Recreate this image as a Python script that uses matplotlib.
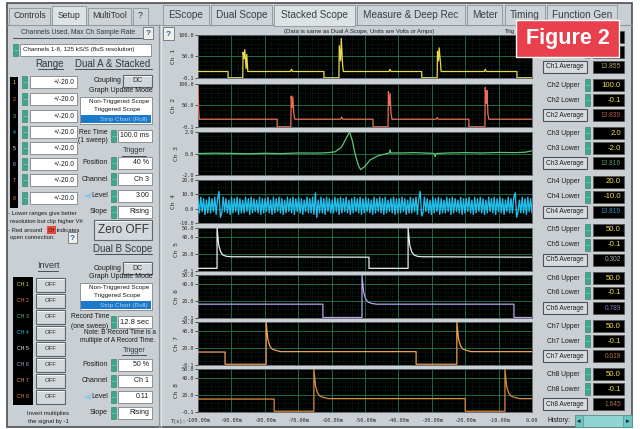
import matplotlib
matplotlib.use("Agg")
import matplotlib.pyplot as plt
from matplotlib.patches import Rectangle, Polygon
from matplotlib.lines import Line2D
from matplotlib.ticker import MultipleLocator

W = 640
H = 429

# stacked scope traces, time in ms (last 100 ms of the roll)
ch1_t = [-100, -91.0, -91.0, -86.6, -86.5, -86.2, -86.0, -85.6, -85.4, -85.1, -72.3, -72.0, -71.7,
         -62.3, -62.3, -57.8, -57.7, -57.3, -57.1, -56.7, -56.5, -42.8, -42.5, -42.2,
         -33.0, -33.0, -28.4, -28.3, -28.0, -27.8, -27.4, -27.2, -14.3, -14.0, -13.7, -4.5, -4.5, 0]
ch1_v = [15, 15, 0.5, 0.5, 60, 45, 66, 22, 55, 15, 15, 20, 15,
         15, 0.5, 0.5, 75, 40, 92, 30, 15, 15, 20, 15,
         15, 0.5, 0.5, 62, 40, 70, 35, 15, 15, 20, 15, 15, 0.5, 0.5]

ch2_t = [-100, -99.8, -99.6, -76.3, -76.3, -72.2, -72.1, -71.8, -71.6, -71.3, -71.0, -57.3, -57.0, -56.7,
         -47.6, -47.6, -43.1, -43.0, -42.7, -42.5, -42.2, -41.9, -28.7, -28.4, -28.1,
         -18.9, -18.9, -14.1, -14.0, -13.7, -13.5, -13.2, -12.9, 0]
ch2_v = [95, 40, 18, 18, 0.5, 0.5, 72, 45, 70, 30, 18, 18, 23, 18,
         18, 0.5, 0.5, 82, 50, 78, 30, 18, 18, 22, 18,
         18, 0.5, 0.5, 92, 55, 85, 30, 18, 18]

ch3_t = [-100, -95, -90, -85, -80, -75, -70, -65, -62, -59, -57, -55.5, -54.6, -53.8, -53, -52, -51.3,
         -50, -48.5, -46, -44, -42.7, -42.5, -42.3, -40, -35, -30, -29.3, -29.0, -28.7, -25, -20, -15,
         -10, -5, -2, 0]
ch3_v = [0.0, 0.03, 0.01, -0.02, 0.02, -0.01, 0.05, 0.04, 0.06, 0.15, 0.6, 1.5, 2.0, 1.2, 0.0, -1.1, -1.5,
         -1.2, -0.6, -0.2, -0.05, 0.05, 0.35, 0.05, 0.05, 0.08, 0.02, 0.0, -0.3, 0.0, 0.05, 0.08, 0.05,
         0.1, 0.08, 0.12, 0.25]

ch4_v = [7, -3, 8, -2, 7, -4, 6, -3, 8, -3, 7, -2, 8, -4, 7, 12, -6, -3, 8, -2, 7, -3, 6, -4,
         8, -3, 7, -2, 8, -4, 7, -3, 6, -3, 8, -2, 7, -4, 8, -3, 7, -2, 6, -3, 8, -4, 7, -3,
         7, -2, 8, -3, 6, -4, 8, -3, 7, -2, 8, -3, 7, -4, 6, -3, 8, -2, 7, -3, 8, -4, 7, -2,
         8, -3, 7, -4, 6, -2, 8, -3, 7, -3, 8, -4, 11, -6, 6, -3, 8, -3, 7, -4, 8, -2, 7, -3,
         6, -3, 8, -2, 7, -4, 8, -3, 7, -2, 8, -3, 6, -4, 7, -3, 8, -2, 7, -3, 8, -4, 7, -3,
         8, -2, 7, -3, 6, -4, 8, -3, 7, -2, 8, -3, 7, -4, 8, -3, 6, -2, 7, -3, 8, -4, 7, -3,
         7, -3, 8, -2, 7, -4, 6, -3, 8, -3, 7, -2, 8, -4, 7, 12, -5, -3, 8, -2, 7, -3, 6, -4,
         8, -3, 7, -2, 8, -4, 7, -3, 6, -3, 8, -2, 7, -4, 8, -3, 7, -2, 6, -3, 8, -4, 7, -3,
         7, -2, 8, -3, 6, -4, 8, -3, 7, -2, 8, -3, 7, -4, 6, -3, 8, -2, 7, -3, 8, -4, 7, -2,
         8, -3, 7, -4, 6, -2, 8, -3, 7, -3, 8, 11, -6, -2, 6, -3, 8, -3, 7, -4, 8, -2, 7, -3]
ch4_t = [-100 + i * 100 / (len(ch4_v) - 1) for i in range(len(ch4_v))]

ch5_t = [-100, -94.3, -94.3, -93.8, -93.2, -92.5, -91.5, -90, -48.8, -48.8,
         -37.1, -37.1, -36.6, -36.0, -35.3, -34.3, -33, 0]
ch5_v = [3, 3, 50, 30, 22, 18.5, 17, 16.5, 16, 3,
         3, 50, 30, 22, 18.5, 17, 16.5, 16]

ch6_t = [-100, -62.6, -62.6, -50.9, -50.9, -50.4, -49.8, -49.1, -48.1, -46.6, -5.4, -5.4, 0]
ch6_v = [16, 16, 0.5, 0.5, 50, 30, 22, 18.5, 17, 16, 16, 0.5, 0.5]

ch7_t = [-100, -91.9, -91.9, -79.6, -79.6, -79.1, -78.5, -77.8, -76.8, -75.3, -34.7, -34.7,
         -22.5, -22.5, -22.0, -21.4, -20.7, -19.7, -18.2, 0]
ch7_v = [15, 15, 0.8, 0.8, 50, 30, 22, 18.5, 17, 15.5, 15.5, 0.8,
         0.8, 50, 30, 22, 18.5, 17, 15.5, 15.5]

ch8_t = [-100, -77.2, -77.2, -65.3, -65.3, -64.8, -64.2, -63.5, -62.5, -61.0, -20.0, -20.0,
         -8.1, -8.1, -7.6, -7.0, -6.3, -5.3, -3.8, 0]
ch8_v = [15, 15, 0.8, 0.8, 50, 30, 22, 18.5, 17, 15.5, 15.5, 0.8,
         0.8, 50, 30, 22, 18.5, 17, 15.5, 15.5]

traces_t = [ch1_t, ch2_t, ch3_t, ch4_t, ch5_t, ch6_t, ch7_t, ch8_t]
traces_v = [ch1_v, ch2_v, ch3_v, ch4_v, ch5_v, ch6_v, ch7_v, ch8_v]

upper = [100.0, 100.0, 2.0, 20.0, 50.0, 50.0, 50.0, 50.0]
lower = [-0.1, -0.1, -2.0, -10.0, -0.1, -0.1, -0.1, -0.1]
averages = ["13.855", "13.839", "13.816", "13.819", "0.302", "0.789", "0.019", "1.645"]
y_ticks = [[100.0, 50.0, -0.1], [100.0, 50.0, -0.1], [2.0, 0.0, -2.0], [20.0, 10.0, 0.0, -10.0],
           [50.0, 40.0, 20.0, -0.1], [50.0, 40.0, 20.0, -0.1], [50.0, 40.0, 20.0, -0.1],
           [50.0, 40.0, 20.0, -0.1]]
minor_step = [10, 10, 0.4, 5, 5, 5, 5, 5]
time_ticks = [-100, -90, -80, -70, -60, -50, -40, -30, -20, -10, 0]
time_labels = ["-100.00m", "-90.00m", "-80.00m", "-70.00m", "-60.00m", "-50.00m",
               "-40.00m", "-30.00m", "-20.00m", "-10.00m", "0.00"]

range_values = ["+/-20.0"] * 8
main_tabs = ["EScope", "Dual Scope", "Stacked Scope", "Measure & Deep Rec", "Meter", "Timing", "Function Gen"]
side_tabs = ["Controls", "Setup", "MultiTool", "?"]

colors = ["#e8da4c", "#ec6e58", "#5cc474", "#22bde9", "#ececec", "#b9a2ea", "#f2a052", "#dc8a3c"]
avg_colors = ["#a9a060", "#b85a50", "#5a9a68", "#3a8ab0", "#a8a8a8", "#8c78b8", "#b87848", "#a87a50"]

BG = "#c9cfd3"
EDGE = "#6c7379"

plt.rcParams["font.family"] = ["Liberation Sans", "DejaVu Sans"]
fig = plt.figure(figsize=(6.4, 4.29), dpi=100)
fig.patch.set_facecolor("white")


def rect(x0, y0, x1, y1, fc, ec="none", lw=0.6, z=1):
    fig.add_artist(Rectangle((x0 / W, 1 - y1 / H), (x1 - x0) / W, (y1 - y0) / H,
                             transform=fig.transFigure, facecolor=fc, edgecolor=ec, linewidth=lw, zorder=z))


def text(x, y, s, size=5, color="#1a1a1a", ha="left", z=3, **kw):
    fig.text(x / W, 1 - y / H, s, fontsize=size, color=color, ha=ha, va="center", zorder=z, **kw)


def line(x0, y0, x1, y1, color=EDGE, lw=0.6, z=2):
    fig.add_artist(Line2D([x0 / W, x1 / W], [1 - y0 / H, 1 - y1 / H], transform=fig.transFigure,
                          color=color, linewidth=lw, zorder=z))


def underlined(x, y, s, x0, x1, size=7):
    text(x, y, s, size=size, color="#333a40", ha="center")
    line(x0, y + 5, x1, y + 5, color="#333a40", lw=0.6)


def spinner(x, y):
    rect(x, y - 6, x + 5, y + 6, "#3da68c", ec="#2c7a66", lw=0.4, z=2)
    line(x + 0.5, y, x + 4.5, y, color="#8fd8c4", lw=0.4, z=3)


def field(x0, x1, y, s, fc="white", color="#1a1a1a", size=5, ec="#7d848a"):
    rect(x0, y - 6, x1, y + 6, fc, ec=ec, lw=0.6, z=2)
    if s:
        text(x1 - 3, y, s, size=size, color=color, ha="right")


def button(x0, y0, x1, y1, s, size=5):
    rect(x0, y0, x1, y1, "#d3d8dc", ec="#5d646a", lw=0.8, z=2)
    line(x0 + 1, y0 + 1, x1 - 1, y0 + 1, color="white", lw=0.6, z=3)
    text((x0 + x1) / 2, (y0 + y1) / 2, s, size=size, color="#333", ha="center")


def help_box(x0, y0, x1, y1):
    rect(x0, y0, x1, y1, "#eef0ea", ec="#6a7076", lw=0.6, z=2)
    text((x0 + x1) / 2, (y0 + y1) / 2 + 0.5, "?", size=6, color="#2a5cb8", ha="center", weight="bold")


def listbox(x0, y0, x1, y1):
    rect(x0, y0, x1, y1, "white", ec="#7d848a", lw=0.6, z=2)
    text(x1 - 3, y0 + 4, "Non-Triggered Scope", size=4.6, ha="right")
    text(x1 - 12, y0 + 13, "Triggered Scope", size=4.6, ha="right")
    rect(x0 + 1, y0 + 18, x1 - 1, y1 - 1, "#1c78c8", z=3)
    text(x1 - 5, y0 + 22.5, "Strip Chart (Roll)", size=4.6, color="#a8d0f0", ha="right", z=4)


# window frame
rect(7, 3, 632, 427, BG, ec="#4a4f55", lw=1.2, z=0)
line(7, 25, 632, 25, color="#8d949a", lw=0.8)
line(159, 25, 159, 427, color="#8d949a", lw=0.9)
line(160.5, 25, 160.5, 427, color="#eef1f3", lw=0.5)

# left side tabs
side_x = [(9, 50), (52, 86), (88, 131), (133, 148)]
for (x0, x1), name in zip(side_x, side_tabs):
    sel = name == "Setup"
    rect(x0, 6 if sel else 8, x1, 25, "#dde2e5" if sel else "#cdd3d7", ec="#8d949a", lw=0.6, z=2)
    text((x0 + x1) / 2, 16, name, size=6.3, color="#333", ha="center")

# main tabs
main_x = [(163, 209), (211, 272), (274, 355), (357, 465), (467, 502), (505, 545), (547, 617)]
for (x0, x1), name in zip(main_x, main_tabs):
    sel = name == "Stacked Scope"
    rect(x0, 5, x1, 25.5 if sel else 25, "#dde2e5" if sel else "#cdd3d7", ec="#8d949a", lw=0.6, z=2)
    text((x0 + x1) / 2, 15, name, size=7.2, color="#3a3f44", ha="center")

text(284, 32, "(Data is same as Dual A Scope, Units are Volts or Amps)", size=4.3, color="#222")
text(505, 32, "Trig", size=4.3, color="#222")
help_box(163, 27, 174, 40)

# setup panel, upper half
underlined(78, 33, "Channels Used, Max Ch Sample Rate", 13, 142, size=4.9)
help_box(143, 27, 153, 39)
spinner(13, 50)
rect(20, 44, 151, 56, "white", ec="#7d848a", lw=0.6, z=2)
text(23, 50, "Channels 1-8, 125 kS/S (8uS resolution)", size=4.5)
underlined(50, 64, "Range", 38, 63, size=7)
underlined(113, 64, "Dual A & Stacked", 75, 152, size=7)

rect(10, 77, 18, 208, "black", z=2)
range_rows = [82, 99, 116, 132, 148, 164, 180, 198]
for i, y in enumerate(range_rows):
    text(14, y, str(i + 1), size=3.8, color=colors[i], ha="center")
    spinner(22, y)
    field(30, 77, y, range_values[i], size=4.8)

text(122, 81, "Coupling", size=5, ha="right")
button(123, 75, 152, 87, "DC")
text(121, 91, "Graph Update Mode", size=5, ha="center")
listbox(80, 97, 152, 124)
text(93, 132, "Rec Time", size=4.9, ha="center")
text(93, 141, "(1 sweep)", size=4.9, ha="center")
spinner(111, 136)
field(118, 152, 136, "100.0 ms", size=5)
underlined(134, 151, "Trigger", 122, 146, size=5.3)
a_trigger = [("Position", "40 %"), ("Channel", "Ch 3"), ("Level", "3.00"), ("Slope", "Rising")]
for k, (name, val) in enumerate(a_trigger):
    y = 163 + 16.3 * k
    text(108, y, name, size=5, ha="right")
    spinner(111, y)
    field(118, 152, y, val, size=5)
fig.add_artist(Polygon([(84 / W, 1 - 196 / H), (91 / W, 1 - 193 / H), (91 / W, 1 - 199 / H)],
                       closed=True, transform=fig.transFigure, facecolor="#8cc8e8", edgecolor="none", zorder=3))

text(8, 214, "- Lower ranges give better", size=4.2)
text(10, 222, "resolution but clip higher V#", size=4.2)
text(8, 230, "- Red around", size=4.2)
rect(47, 226, 56, 234, "#e84a3a", z=2)
text(51.5, 230, "CH", size=3.8, color="#551010", ha="center")
text(57, 230, "indicates", size=4.2)
text(10, 238, "open connection.", size=4.2)
help_box(68, 232, 77, 243)

# setup panel, lower half
button(94, 220, 152, 240, "Zero OFF", size=8.5)
underlined(123, 249, "Dual B Scope", 95, 152, size=7)
underlined(48, 266, "Invert", 38, 58, size=6.5)
text(122, 268, "Coupling", size=5, ha="right")
button(123, 262, 152, 274, "DC")
text(121, 277, "Graph Update Mode", size=5, ha="center")
listbox(80, 283, 152, 310)

rect(13, 277, 33, 405, "black", z=2)
invert_rows = [285, 301, 317, 333, 349, 365, 381, 397]
for i, y in enumerate(invert_rows):
    text(23, y, f"CH {i + 1}", size=3.8, color=colors[i], ha="center")
    button(36, y - 7, 65, y + 7, "OFF", size=4.3)

text(90, 317, "Record Time", size=4.9, ha="center")
text(90, 326, "(one sweep)", size=4.9, ha="center")
spinner(111, 322)
field(118, 152, 322, "12.8 sec", size=5.5)
text(120, 333, "Note: B Record Time is a", size=4.7, ha="center")
text(118, 341, "multiple of A Record Time.", size=4.7, ha="center")
underlined(134, 350, "Trigger", 122, 146, size=5.3)
b_trigger = [("Position", "50 %"), ("Channel", "Ch 1"), ("Level", "0.11"), ("Slope", "Rising")]
for k, (name, val) in enumerate(b_trigger):
    y = 365 + 16 * k
    text(108, y, name, size=5, ha="right")
    spinner(111, y)
    field(118, 152, y, val, size=5)
fig.add_artist(Polygon([(84 / W, 1 - 397 / H), (91 / W, 1 - 394 / H), (91 / W, 1 - 400 / H)],
                       closed=True, transform=fig.transFigure, facecolor="#8cc8e8", edgecolor="none", zorder=3))
text(48, 414, "Invert multiplies", size=4.3, ha="center")
text(48, 421, "the signal by -1", size=4.3, ha="center")

# stacked scope panels
panel_top = [35, 84, 132, 180, 228, 275, 322, 369]
for i in range(8):
    top = panel_top[i]
    ax = fig.add_axes([198 / W, 1 - (top + 43) / H, 334 / W, 43 / H])
    ax.set_facecolor("black")
    ax.plot(traces_t[i], traces_v[i], color=colors[i], linewidth=0.9 if i != 3 else 1.0, zorder=3)
    ax.set_xlim(-100, 0)
    ax.set_ylim(lower[i], upper[i])
    ax.set_xticks(time_ticks)
    ax.xaxis.set_minor_locator(MultipleLocator(2))
    ax.set_yticks(y_ticks[i])
    ax.set_yticklabels([f"{v:.1f}" for v in y_ticks[i]], fontsize=3.7, family="DejaVu Sans Mono", color="#2a2a2a")
    ax.yaxis.set_minor_locator(MultipleLocator(minor_step[i]))
    ax.grid(which="major", color="#237a52", linewidth=0.6)
    ax.grid(which="minor", color="#1c4c36", linewidth=0.4, linestyle=(0, (1, 2)))
    ax.tick_params(axis="y", which="major", length=2.5, width=0.5, pad=0.5, color="#222")
    ax.tick_params(axis="y", which="minor", length=0)
    ax.tick_params(axis="x", which="both", length=0)
    if i == 7:
        ax.set_xticklabels(time_labels, fontsize=3.7, family="DejaVu Sans Mono", color="#2a2a2a")
        ax.tick_params(axis="x", pad=4)
    else:
        ax.set_xticklabels([])
    for sp in ax.spines.values():
        sp.set_color("#5a6066")
        sp.set_linewidth(0.6)
    ax.set_ylabel(f"Ch {i + 1}", fontsize=4.5, family="DejaVu Sans Mono", color="#2a2a2a", labelpad=1.5)
text(171, 421, "T(s):", size=3.7, color="#2a2a2a", family="DejaVu Sans Mono")

# channel limit controls (Ch1 upper/lower sit under the figure tag)
for i in range(8):
    y0 = 37 + 48.2 * i
    shown = i > 0
    if shown:
        text(563, y0, f"Ch{i + 1} Upper", size=4.9, ha="center")
        text(563, y0 + 15, f"Ch{i + 1} Lower", size=4.9, ha="center")
    spinner(585, y0)
    field(593, 624, y0, f"{upper[i]:.1f}" if shown else "", fc="black", color="#f2e24a", size=5.6, ec="#555")
    spinner(585, y0 + 15)
    field(593, 624, y0 + 15, f"{lower[i]:.1f}" if shown else "", fc="black", color="#f2e24a", size=5.6, ec="#555")
    rect(543, y0 + 24, 587, y0 + 36, "#d6dbde", ec="#4c5258", lw=0.8, z=2)
    text(565, y0 + 30, f"Ch{i + 1} Average", size=4.7, ha="center")
    field(593, 624, y0 + 30, averages[i], fc="black", color=avg_colors[i], size=4.8, ec="#555")

text(548, 421, "History:", size=4.9)
rect(575, 415, 632, 427, "#8fd3d3", ec="#5a8e8e", lw=0.6, z=2)
rect(575, 415, 583, 427, "#6cc4c4", ec="#5a8e8e", lw=0.5, z=3)
rect(623, 415, 632, 427, "#6cc4c4", ec="#5a8e8e", lw=0.5, z=3)
text(579, 421, "\u25c2", size=5, color="#1a1a1a", ha="center", family="DejaVu Sans", z=4)
text(627.5, 421, "\u25b8", size=5, color="#1a1a1a", ha="center", family="DejaVu Sans", z=4)

# figure tag
rect(516, 20, 619, 57, "#e8404c", ec="white", lw=1.0, z=10)
text(567.5, 38.5, "Figure 2", size=15.5, color="white", ha="center", weight="bold", z=11)

fig.savefig("out.png", dpi=100, facecolor="white")
